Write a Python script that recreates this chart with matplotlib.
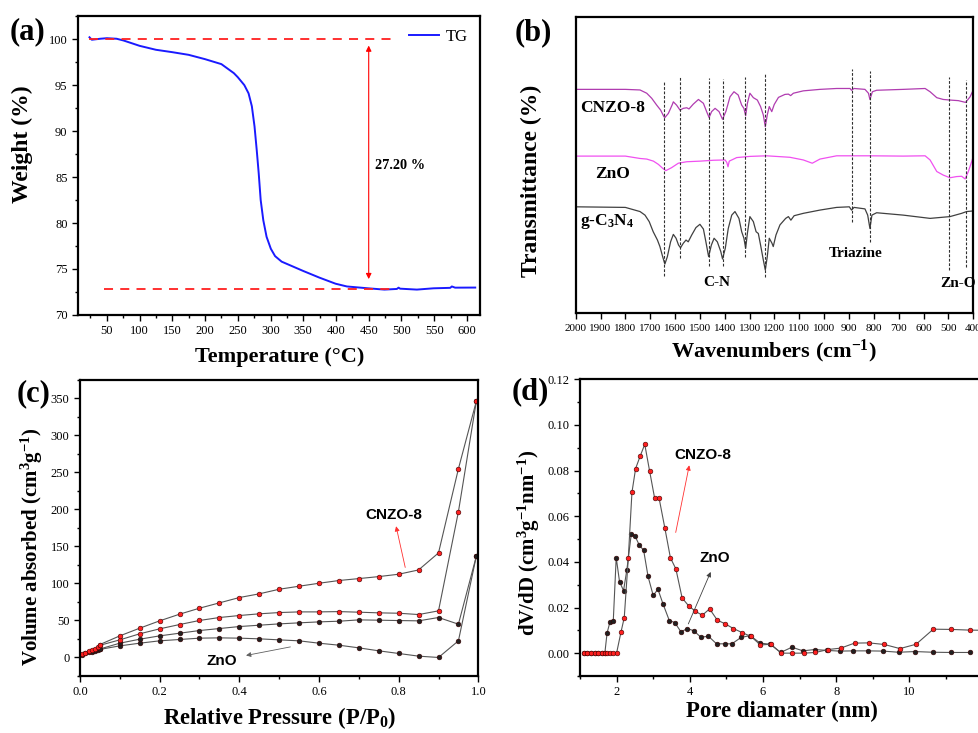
import matplotlib
matplotlib.use('Agg')
import matplotlib.pyplot as plt
from matplotlib.ticker import MultipleLocator, FormatStrFormatter

plt.rcParams['font.family'] = ['Liberation Serif', 'DejaVu Serif']
plt.rcParams['mathtext.fontset'] = 'custom'
plt.rcParams['mathtext.rm'] = 'Liberation Serif:bold'
plt.rcParams['mathtext.it'] = 'Liberation Serif:bold'
plt.rcParams['mathtext.bf'] = 'Liberation Serif:bold'
plt.rcParams['mathtext.default'] = 'bf'

# (a) thermogravimetry
tg_temp = [23.5, 27, 40, 50, 65, 75.5, 100, 125, 150, 175, 200, 225, 244, 250, 260,
           266.5, 271.5, 275.6, 279, 282, 285, 289, 294, 300.5, 307, 317, 330, 349.5,
           374.4, 399.4, 416.7, 449, 474, 493, 495.6, 498, 523.6, 549, 574.5, 577, 582, 612.7]
tg_weight = [100.2, 99.93, 100.04, 100.1, 100.04, 99.85, 99.27, 98.84, 98.58, 98.29, 97.82,
             97.28, 96.3, 95.86, 95.0, 94.1, 92.7, 90.5, 87.9, 85.4, 82.5, 80.3, 78.5, 77.2,
             76.4, 75.8, 75.4, 74.8, 74.07, 73.4, 73.1, 72.9, 72.76, 72.83, 72.97, 72.86,
             72.76, 72.9, 72.95, 73.1, 72.97, 72.98]
weight_loss = 27.20

# (b) FTIR spectra, transmittance in arbitrary units
cnzo_wn = [2000, 1800, 1741, 1714, 1694, 1674, 1658, 1645, 1641, 1627, 1611, 1607, 1594, 1580,
           1567, 1553, 1544, 1527, 1506, 1486, 1473, 1463, 1453, 1439, 1423, 1409, 1395, 1379,
           1363, 1346, 1332, 1323, 1316, 1309, 1299, 1285, 1269, 1256, 1245, 1237, 1229, 1221,
           1211, 1201, 1184, 1158, 1144, 1135, 1124, 1084, 1017, 950, 896, 890, 880, 836, 822,
           816, 806, 789, 682, 594, 574, 547, 521, 494, 460, 431, 413, 402]
cnzo_t = [75.5, 75.5, 75.3, 74.2, 72.5, 70.2, 68.5, 66.3, 66.0, 67.4, 70.4, 71.3, 70.2, 68.5,
          69.1, 69.3, 68.9, 70.5, 72.1, 70.8, 68.0, 66.0, 68.0, 69.1, 68.0, 65.4, 68.2, 73.0,
          74.7, 73.6, 70.2, 69.1, 66.6, 70.8, 74.2, 72.7, 71.9, 69.7, 66.9, 62.9, 66.9, 69.7,
          68.0, 70.4, 72.8, 73.8, 73.9, 73.4, 74.2, 75.0, 75.5, 75.8, 75.8, 75.2, 75.8, 75.5,
          74.2, 72.1, 74.7, 75.2, 75.5, 75.8, 74.7, 72.7, 72.1, 71.9, 71.7, 71.1, 73.0, 75.0]

zno_wn = [2000, 1800, 1741, 1714, 1687, 1667, 1650, 1637, 1614, 1587, 1553, 1500, 1446, 1399,
          1392, 1387, 1382, 1352, 1299, 1232, 1138, 1084, 1048, 1017, 950, 816, 682, 594, 574,
          547, 521, 494, 467, 447, 433, 420, 406, 400]
zno_t = [53.0, 53.0, 52.2, 52.0, 51.3, 50.2, 48.9, 48.1, 49.1, 50.6, 51.1, 51.3, 51.6, 51.7,
         50.9, 49.4, 51.3, 52.5, 52.9, 53.1, 52.6, 51.7, 50.6, 52.0, 53.1, 53.1, 53.0, 53.1,
         51.7, 47.8, 46.6, 45.7, 46.1, 46.2, 45.3, 47.8, 51.3, 53.0]

gcn_wn = [2000, 1800, 1741, 1721, 1704, 1688, 1671, 1661, 1650, 1641, 1631, 1618, 1607, 1596,
          1586, 1578, 1567, 1556, 1547, 1533, 1516, 1500, 1486, 1476, 1465, 1454, 1443, 1430,
          1416, 1409, 1398, 1386, 1372, 1359, 1343, 1332, 1323, 1316, 1309, 1299, 1285, 1274,
          1265, 1256, 1245, 1237, 1229, 1221, 1210, 1205, 1194, 1178, 1155, 1144, 1134, 1121,
          1084, 1017, 950, 899, 890, 880, 836, 825, 816, 808, 789, 682, 574, 494, 447, 427, 402]
gcn_t = [35.9, 35.7, 34.3, 33.1, 30.9, 27.5, 24.7, 22.5, 19.1, 16.6, 19.1, 24.1, 26.6, 25.3,
         23.0, 22.1, 23.6, 24.7, 24.1, 26.4, 28.9, 30.0, 28.4, 24.1, 19.1, 23.0, 25.3, 24.1,
         20.8, 18.3, 21.9, 28.6, 33.1, 34.3, 32.0, 27.5, 25.3, 21.9, 27.0, 32.6, 30.9, 27.5,
         26.9, 23.0, 18.0, 14.6, 19.1, 25.3, 23.6, 22.5, 26.4, 29.8, 32.0, 32.6, 31.4, 32.9,
         33.7, 34.8, 35.7, 35.9, 34.8, 35.7, 35.2, 33.1, 28.6, 33.1, 33.9, 33.1, 32.0, 32.6,
         33.7, 34.3, 34.5]

# marker lines: wavenumber, top, bottom
band_wn = [1643, 1579, 1462, 1407, 1317, 1238, 889, 814, 498, 431]
band_top = [78.1, 79.6, 79.2, 78.9, 79.6, 81.1, 82.3, 81.7, 79.8, 78.7]
band_bottom = [12.6, 18.5, 15.9, 15.9, 18.9, 12.3, 30.9, 24.1, 14.6, 15.7]

# (c) N2 adsorption-desorption isotherms
p_low = [0.005, 0.013, 0.023, 0.031, 0.038, 0.044, 0.051]
p_mid = [0.1, 0.15, 0.2, 0.25, 0.3, 0.35, 0.4, 0.45, 0.5, 0.55, 0.6, 0.65, 0.7, 0.75, 0.8,
         0.85, 0.9, 0.95, 0.995]
cnzo_ads = [4.9, 6.7, 9.0, 10.3, 12.0, 14.0, 16.6,
            23.8, 32.0, 38.7, 44.5, 50.0, 54.0, 56.7, 59.0, 60.7, 61.6, 61.6, 62.0, 61.2,
            60.3, 59.8, 58.0, 63.0, 197.0, 346.4]
cnzo_des = [17.5, 29.2, 39.6, 49.5, 58.5, 66.6, 73.8, 81.0, 86.0, 92.2, 96.3, 100.3, 104.0,
            106.6, 109.3, 112.5, 118.3, 141.3, 255.0, 346.4]
zno_ads = [4.0, 5.5, 7.0, 8.0, 9.0, 10.0, 11.0,
           15.7, 19.3, 22.5, 24.3, 26.1, 26.5, 26.1, 25.2, 23.8, 22.5, 19.3, 16.6, 13.0, 9.0,
           5.4, 1.8, 0.0, 22.5, 137.0]
zno_des = [11.5, 19.3, 24.7, 29.2, 32.8, 36.4, 39.1, 41.8, 43.6, 45.4, 46.8, 48.1, 49.0,
           50.8, 50.4, 49.9, 49.5, 54.0, 45.0, 137.0]

# (d) pore size distribution
zno_d = [1.1, 1.2, 1.3, 1.4, 1.5, 1.6, 1.68, 1.74, 1.82, 1.91, 1.99, 2.08, 2.19, 2.28, 2.4,
         2.5, 2.62, 2.74, 2.86, 3.0, 3.13, 3.27, 3.44, 3.59, 3.76, 3.93, 4.11, 4.3, 4.51, 4.73,
         4.95, 5.15, 5.4, 5.65, 5.92, 6.2, 6.48, 6.79, 7.09, 7.41, 7.75, 8.09, 8.47, 8.87, 9.28,
         9.7, 10.15, 10.64, 11.13, 11.64]
zno_dv = [0, 0, 0, 0, 0, 0, 0, 0.0088, 0.0137, 0.0142, 0.0419, 0.0314, 0.0274, 0.0364, 0.052,
          0.0514, 0.0474, 0.045, 0.0336, 0.0253, 0.028, 0.0215, 0.0143, 0.0134, 0.0093, 0.0108,
          0.0098, 0.007, 0.0074, 0.0041, 0.0041, 0.0041, 0.0069, 0.0077, 0.0044, 0.0039, 0.0003,
          0.0026, 0.001, 0.0016, 0.0012, 0.0009, 0.001, 0.001, 0.0009, 0.0004, 0.0007, 0.0004,
          0.0003, 0.0003]
cnzo_d = [1.1, 1.2, 1.3, 1.4, 1.5, 1.6, 1.68, 1.75, 1.83, 1.91, 2.0, 2.12, 2.21, 2.32, 2.42,
          2.52, 2.65, 2.77, 2.9, 3.04, 3.16, 3.32, 3.47, 3.62, 3.79, 3.97, 4.15, 4.34, 4.54,
          4.75, 4.97, 5.19, 5.43, 5.67, 5.93, 6.21, 6.5, 6.8, 7.11, 7.43, 7.78, 8.12, 8.5, 8.89,
          9.31, 9.74, 10.18, 10.65, 11.14, 11.64, 12.15]
cnzo_dv = [0, 0, 0, 0, 0, 0, 0, 0, 0, 0, 0, 0.0092, 0.0156, 0.0416, 0.0705, 0.0809, 0.0866,
           0.0915, 0.08, 0.0679, 0.068, 0.0547, 0.0418, 0.0369, 0.0242, 0.0207, 0.0184, 0.0166,
           0.0194, 0.0145, 0.0128, 0.0108, 0.009, 0.0073, 0.0036, 0.0039, 0, 0, 0, 0.0003,
           0.0016, 0.0022, 0.0044, 0.0045, 0.0038, 0.002, 0.0039, 0.0105, 0.0104, 0.0101, 0.0100]

fig = plt.figure(figsize=(9.79, 7.33), dpi=100)
ax_a = fig.add_axes([0.0797, 0.5703, 0.4106, 0.4077])
ax_b = fig.add_axes([0.5880, 0.5726, 0.4062, 0.4046])
ax_c = fig.add_axes([0.0817, 0.0778, 0.4069, 0.4038])
ax_d = fig.add_axes([0.5924, 0.0778, 0.4301, 0.4047])

for ax in (ax_a, ax_b, ax_c, ax_d):
    for s in ax.spines.values():
        s.set_linewidth(1.6)
    ax.tick_params(which='both', direction='out', top=False, right=False, width=1.0)
    ax.tick_params(which='major', length=4, labelsize=9)
    ax.tick_params(which='minor', length=2.5)


def axis_labels(ax, xtext, xsize, xpos, ytext, ysize, ypos):
    xl = ax.set_xlabel(xtext, fontsize=xsize, fontweight='bold', va='center', ha='center')
    yl = ax.set_ylabel(ytext, fontsize=ysize, fontweight='bold', va='center', ha='center')
    ax.xaxis.set_label_coords(*xpos)
    ax.yaxis.set_label_coords(*ypos)
    return xl, yl


# (a)
ax_a.plot(tg_temp, tg_weight, color='#1a1aff', lw=1.4, label='TG')
ax_a.plot([23.5, 488], [100, 100], color='#ff2020', lw=1.3, ls=(0, (5, 4)))
ax_a.plot([45, 488], [100 - weight_loss, 100 - weight_loss], color='#ff2020', lw=1.3,
          ls=(0, (5, 4)))
ax_a.annotate('', xy=(450, 100 - weight_loss + 1.1), xytext=(450, 99.3),
              arrowprops=dict(arrowstyle='<|-|>', color='red', lw=0.8, mutation_scale=8,
                              shrinkA=0, shrinkB=0))
ax_a.text(498, 86.3, f'{weight_loss:.2f} %', ha='center', va='center', fontsize=10.3,
          fontweight='bold')
ax_a.set_xlim(6, 620)
ax_a.set_ylim(70, 102.5)
ax_a.xaxis.set_major_locator(MultipleLocator(50))
ax_a.xaxis.set_minor_locator(MultipleLocator(25))
ax_a.yaxis.set_major_locator(MultipleLocator(5))
ax_a.yaxis.set_minor_locator(MultipleLocator(2.5))
axis_labels(ax_a, 'Temperature (°C)', 16, (0.502, -0.14), 'Weight (%)', 17, (-0.139, 0.57))
ax_a.legend(loc='upper right', frameon=False, fontsize=12, handlelength=1.8,
            borderaxespad=0.35, handletextpad=0.4)

# (b)
ax_b.plot(cnzo_wn, cnzo_t, color='#b03cb0', lw=0.9)
ax_b.plot(zno_wn, zno_t, color='#f050f0', lw=0.9)
ax_b.plot(gcn_wn, gcn_t, color='#404040', lw=0.9)
ax_b.vlines(band_wn, band_bottom, band_top, colors='#303030', lw=0.8, linestyles=(0, (2.5, 1.5)))
ax_b.text(1983, 69.3, 'CNZO-8', fontsize=12.5, fontweight='bold', va='center')
ax_b.text(1922, 47.0, 'ZnO', fontsize=12.5, fontweight='bold', va='center')
ax_b.text(1981, 30.9, 'g-C$_3$N$_4$', fontsize=12.5, fontweight='bold', va='center')
ax_b.text(1432, 10.5, 'C-N', fontsize=11, fontweight='bold', ha='center', va='center')
ax_b.text(875, 20.0, 'Triazine', fontsize=11, fontweight='bold', ha='center', va='center')
ax_b.text(460, 10.2, 'Zn-O', fontsize=11, fontweight='bold', ha='center', va='center')
ax_b.set_xlim(2000, 400)
ax_b.set_ylim(0, 100)
ax_b.xaxis.set_major_locator(MultipleLocator(100))
ax_b.set_yticks([])
ax_b.tick_params(axis='x', labelsize=8)
axis_labels(ax_b, 'Wavenumbers (cm$^{-1}$)', 16, (0.499, -0.13),
            'Transmittance (%)', 17, (-0.112, 0.446))

# (c)
pt = dict(marker='o', ms=3.4, mec='#3a0000', mew=0.4, color='#555555', lw=0.8)
ax_c.plot(p_low + p_mid, zno_ads, mfc='#202020', **pt)
ax_c.plot([0.05] + p_mid, zno_des, mfc='#202020', **pt)
ax_c.plot(p_low + p_mid, cnzo_ads, mfc='#ff2020', **pt)
ax_c.plot([0.05] + p_mid, cnzo_des, mfc='#ff2020', **pt)
ax_c.text(0.788, 192, 'CNZO-8', family='Liberation Sans', fontsize=11, fontweight='bold',
          ha='center', va='center')
ax_c.annotate('', xy=(0.792, 181), xytext=(0.818, 118),
              arrowprops=dict(arrowstyle='-|>', color='#ff3030', lw=0.6, mutation_scale=7))
ax_c.text(0.355, -5, 'ZnO', family='Liberation Sans', fontsize=11, fontweight='bold',
          ha='center', va='center')
ax_c.annotate('', xy=(0.41, 2), xytext=(0.535, 15),
              arrowprops=dict(arrowstyle='-|>', color='#606060', lw=0.6, mutation_scale=7))
ax_c.set_xlim(0, 1.0)
ax_c.set_ylim(-25, 375)
ax_c.xaxis.set_major_locator(MultipleLocator(0.2))
ax_c.xaxis.set_minor_locator(MultipleLocator(0.1))
ax_c.xaxis.set_major_formatter(FormatStrFormatter('%.1f'))
ax_c.yaxis.set_major_locator(MultipleLocator(50))
ax_c.yaxis.set_minor_locator(MultipleLocator(25))
axis_labels(ax_c, 'Relative Pressure (P/P$_0$)', 16.3, (0.50, -0.142),
            'Volume absorbed (cm$^3$g$^{-1}$)', 15, (-0.12, 0.4375))

# (d)
ax_d.plot(zno_d, zno_dv, mfc='#202020', **pt)
ax_d.plot(cnzo_d, cnzo_dv, mfc='#ff2020', **pt)
ax_d.text(4.36, 0.0868, 'CNZO-8', family='Liberation Sans', fontsize=11, fontweight='bold',
          ha='center', va='center')
ax_d.annotate('', xy=(4.0, 0.0835), xytext=(3.6, 0.0517),
              arrowprops=dict(arrowstyle='-|>', color='#ff3030', lw=0.6, mutation_scale=7))
ax_d.text(4.68, 0.0417, 'ZnO', family='Liberation Sans', fontsize=11, fontweight='bold',
          ha='center', va='center')
ax_d.annotate('', xy=(4.6, 0.0367), xytext=(3.93, 0.0117),
              arrowprops=dict(arrowstyle='-|>', color='#404040', lw=0.6, mutation_scale=7))
ax_d.set_xlim(1.0, 12.5)
ax_d.set_ylim(-0.01, 0.12)
ax_d.xaxis.set_major_locator(MultipleLocator(2))
ax_d.xaxis.set_minor_locator(MultipleLocator(1))
ax_d.yaxis.set_major_locator(MultipleLocator(0.02))
ax_d.yaxis.set_minor_locator(MultipleLocator(0.01))
ax_d.yaxis.set_major_formatter(FormatStrFormatter('%.2f'))
axis_labels(ax_d, 'Pore diamater (nm)', 16.5, (0.479, -0.118),
            'dV/dD (cm$^3$g$^{-1}$nm$^{-1}$)', 15, (-0.121, 0.447))

# panel letters
for x, y, s in [(0.010, 0.957, '(a)'), (0.526, 0.955, '(b)'), (0.017, 0.4625, '(c)'),
                (0.523, 0.465, '(d)')]:
    fig.text(x, y, s, fontsize=22, fontweight='bold', va='center')

fig.savefig('out.png', dpi=100)
